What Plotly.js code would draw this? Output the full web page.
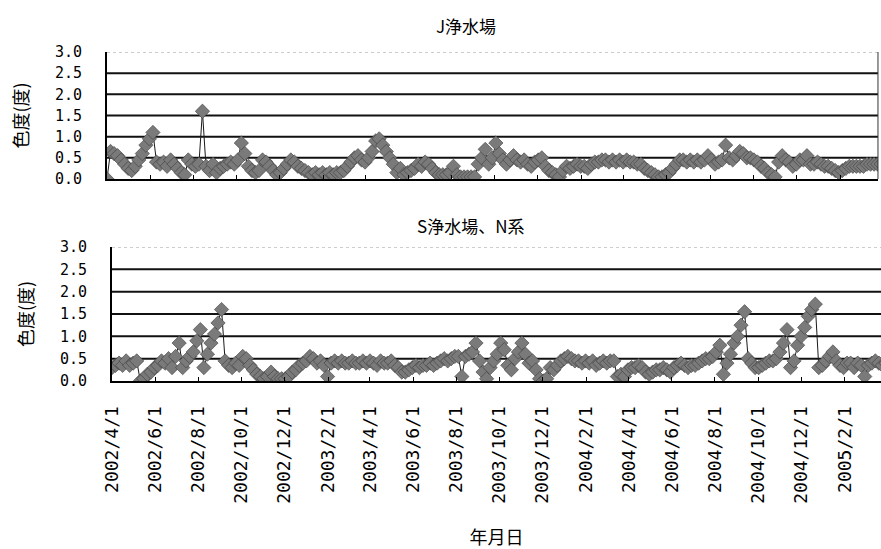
<!DOCTYPE html>
<html>
<head>
<meta charset="utf-8">
<script src="https://cdn.plot.ly/plotly-3.0.1.min.js"></script>
<style>html,body{margin:0;padding:0;background:#fff;}#chart{width:881px;height:549px;}</style>
</head>
<body>
<div id="chart"></div>
<script>
// Sampling: one value every 5 days, starting 2002/4/1
const startDate = '2002-04-01';
const stepDays = 5;

// J浄水場 colour (度)
const jValues = [
  0.0,0.65,0.6,0.55,0.45,0.35,0.25,0.2,0.3,0.45,0.6,0.8,0.95,1.1,0.4,0.35,0.4,0.3,0.45,0.35,
  0.25,0.15,0.1,0.45,0.35,0.3,0.35,1.6,0.3,0.2,0.35,0.15,0.25,0.3,0.35,0.4,0.35,0.45,0.85,0.6,
  0.3,0.2,0.15,0.2,0.45,0.4,0.3,0.2,0.1,0.15,0.25,0.35,0.45,0.4,0.3,0.25,0.2,0.15,0.1,0.15,
  0.1,0.15,0.1,0.15,0.1,0.15,0.15,0.2,0.3,0.4,0.5,0.55,0.45,0.4,0.5,0.65,0.9,0.95,0.8,0.65,
  0.5,0.35,0.15,0.25,0.1,0.15,0.2,0.25,0.35,0.3,0.4,0.35,0.25,0.15,0.1,0.1,0.1,0.15,0.3,0.1,
  0.05,0.05,0.05,0.05,0.05,0.35,0.5,0.7,0.35,0.5,0.85,0.6,0.45,0.35,0.45,0.55,0.45,0.4,0.45,0.35,
  0.3,0.4,0.45,0.5,0.3,0.2,0.15,0.1,0.05,0.2,0.3,0.25,0.3,0.35,0.3,0.3,0.25,0.35,0.4,0.4,
  0.45,0.45,0.4,0.45,0.4,0.45,0.4,0.45,0.4,0.4,0.35,0.35,0.25,0.2,0.15,0.1,0.05,0.05,0.1,0.15,
  0.25,0.35,0.45,0.45,0.4,0.45,0.4,0.45,0.4,0.45,0.55,0.45,0.35,0.4,0.45,0.8,0.5,0.45,0.55,0.65,
  0.6,0.5,0.5,0.45,0.4,0.3,0.25,0.15,0.1,0.05,0.4,0.55,0.45,0.4,0.3,0.35,0.45,0.45,0.55,0.35,
  0.35,0.4,0.35,0.3,0.3,0.25,0.2,0.15,0.2,0.25,0.3,0.3,0.3,0.3,0.3,0.35,0.35,0.35,0.35,0.35
];

// S浄水場、N系 colour (度)
const sValues = [
  0.3,0.35,0.4,0.35,0.45,0.35,0.4,0.45,0.0,0.05,0.15,0.2,0.3,0.35,0.45,0.4,0.5,0.3,0.55,0.85,
  0.3,0.45,0.55,0.65,0.9,1.15,0.3,0.6,0.85,1.05,1.3,1.6,0.45,0.35,0.3,0.4,0.35,0.55,0.5,0.35,
  0.25,0.15,0.1,0.05,0.1,0.2,0.1,0.05,0.05,0.05,0.1,0.2,0.25,0.35,0.4,0.45,0.55,0.5,0.4,0.45,
  0.35,0.1,0.4,0.45,0.4,0.45,0.4,0.4,0.45,0.4,0.4,0.45,0.4,0.45,0.4,0.35,0.45,0.4,0.4,0.45,
  0.35,0.3,0.2,0.2,0.25,0.3,0.35,0.3,0.35,0.35,0.4,0.35,0.4,0.45,0.5,0.45,0.5,0.55,0.55,0.1,
  0.55,0.6,0.65,0.85,0.45,0.2,0.05,0.3,0.45,0.6,0.85,0.7,0.35,0.25,0.5,0.65,0.85,0.6,0.4,0.45,
  0.25,0.05,0.0,0.05,0.3,0.25,0.35,0.45,0.5,0.55,0.5,0.45,0.45,0.4,0.45,0.4,0.45,0.35,0.4,0.45,
  0.4,0.45,0.45,0.1,0.15,0.1,0.25,0.3,0.3,0.35,0.3,0.2,0.15,0.2,0.25,0.25,0.3,0.25,0.2,0.3,
  0.35,0.4,0.35,0.3,0.35,0.35,0.4,0.45,0.5,0.5,0.55,0.65,0.8,0.15,0.4,0.6,0.85,1.0,1.25,1.55,
  0.5,0.4,0.3,0.3,0.35,0.4,0.45,0.45,0.5,0.65,0.85,1.15,0.3,0.45,0.8,1.0,1.2,1.45,1.6,1.72,
  0.3,0.35,0.45,0.55,0.65,0.45,0.35,0.3,0.4,0.4,0.3,0.4,0.35,0.1,0.35,0.4,0.45,0.4,0.35,0.4
];

const tickVals = ['2002-04-01','2002-06-01','2002-08-01','2002-10-01','2002-12-01','2003-02-01',
  '2003-04-01','2003-06-01','2003-08-01','2003-10-01','2003-12-01','2004-02-01',
  '2004-04-01','2004-06-01','2004-08-01','2004-10-01','2004-12-01','2005-02-01'];
const tickLabels = ['2002/4/1','2002/6/1','2002/8/1','2002/10/1','2002/12/1','2003/2/1',
  '2003/4/1','2003/6/1','2003/8/1','2003/10/1','2003/12/1','2004/2/1',
  '2004/4/1','2004/6/1','2004/8/1','2004/10/1','2004/12/1','2005/2/1'];
const yTickVals = [0,0.5,1.0,1.5,2.0,2.5,3.0];
const yTickLabels = ['0.0','0.5','1.0','1.5','2.0','2.5','3.0'];
const gridValues = [0.5,1.0,1.5,2.0,2.5];

const titleTop = 'J浄水場';
const titleBottom = 'S浄水場、N系';
const yTitle = '色度(度)';
const xTitle = '年月日';

function datesFor(n) {
  const base = Date.UTC(2002, 3, 1);
  const out = [];
  for (let i = 0; i < n; i++) {
    out.push(new Date(base + i * stepDays * 86400000).toISOString().slice(0, 10));
  }
  return out;
}

const mono = '"DejaVu Sans Mono", "Noto Sans CJK JP", sans-serif';
const jp = '"Noto Sans CJK JP", "DejaVu Sans", sans-serif';

const markerStyle = {symbol: 'diamond', size: 11, color: '#7a7a7a', line: {color: '#3c3c3c', width: 0.6}};
const lineStyle = {color: '#1a1a1a', width: 1};

const traces = [
  {x: datesFor(jValues.length), y: jValues, type: 'scatter', mode: 'lines+markers',
   xaxis: 'x', yaxis: 'y', marker: markerStyle, line: lineStyle, showlegend: false},
  {x: datesFor(sValues.length), y: sValues, type: 'scatter', mode: 'lines+markers',
   xaxis: 'x2', yaxis: 'y2', marker: markerStyle, line: lineStyle, showlegend: false}
];

const yCommon = {
  range: [0, 3], tickmode: 'array', tickvals: yTickVals, ticktext: yTickLabels,
  showgrid: false,
  showline: true, linecolor: '#000', linewidth: 2, ticks: '',
  zeroline: false, tickfont: {family: mono, size: 15, color: '#000'},
  ticklabelstandoff: 20, automargin: false
};
const xCommon = {
  type: 'date', tickmode: 'array', tickvals: tickVals, ticktext: tickLabels,
  ticks: 'inside', ticklen: 4, tickcolor: '#000', tickwidth: 1,
  showgrid: false, showline: true, linecolor: '#000', linewidth: 2,
  zeroline: false, automargin: false
};

const shapes = [];
[['x', 'y'], ['x2', 'y2']].forEach(function (p) {
  gridValues.forEach(function (v) {
    shapes.push({type: 'line', layer: 'below', xref: p[0] + ' domain', yref: p[1],
      x0: 0, x1: 1, y0: v, y1: v, line: {color: '#111', width: 2}});
  });
  shapes.push({type: 'line', layer: 'below', xref: p[0] + ' domain', yref: p[1],
    x0: 0, x1: 1, y0: 3, y1: 3, line: {color: '#999', width: 1, dash: 'dot'}});
});
shapes.push({type: 'line', xref: 'x domain', yref: 'y', x0: 1, x1: 1, y0: 0, y1: 3,
  line: {color: '#333', width: 1}});

const layout = {
  width: 881, height: 549,
  margin: {l: 107, r: 0, t: 52, b: 168},
  paper_bgcolor: '#fff', plot_bgcolor: '#fff',
  showlegend: false,
  xaxis: Object.assign({}, xCommon, {domain: [0, 0.9961], anchor: 'y',
    range: ['2002-04-01', '2005-03-26 12:00'], showticklabels: false}),
  yaxis: Object.assign({}, yCommon, {domain: [0.614, 1], anchor: 'x',
    title: {text: yTitle, font: {family: jp, size: 18, color: '#000'}, standoff: 22}}),
  xaxis2: Object.assign({}, xCommon, {domain: [0.00646, 1], anchor: 'y2',
    range: ['2002-04-01', '2005-03-24'], showticklabels: true, tickangle: -90,
    tickfont: {family: mono, size: 18, color: '#000'}, ticklabelstandoff: 16,
    title: {text: xTitle, font: {family: jp, size: 18, color: '#000'}, standoff: 30}}),
  yaxis2: Object.assign({}, yCommon, {domain: [0, 0.4073], anchor: 'x2',
    title: {text: yTitle, font: {family: jp, size: 18, color: '#000'}, standoff: 22}}),
  annotations: [
    {text: titleTop, xref: 'paper', yref: 'paper', x: 0.4638, y: 1.082, yanchor: 'middle',
     showarrow: false, font: {family: jp, size: 17, color: '#000'}},
    {text: titleBottom, xref: 'paper', yref: 'paper', x: 0.469, y: 0.474, yanchor: 'middle',
     showarrow: false, font: {family: jp, size: 17, color: '#000'}}
  ],
  shapes: shapes
};

Plotly.newPlot('chart', traces, layout, {staticPlot: true, displayModeBar: false});
</script>
</body>
</html>
